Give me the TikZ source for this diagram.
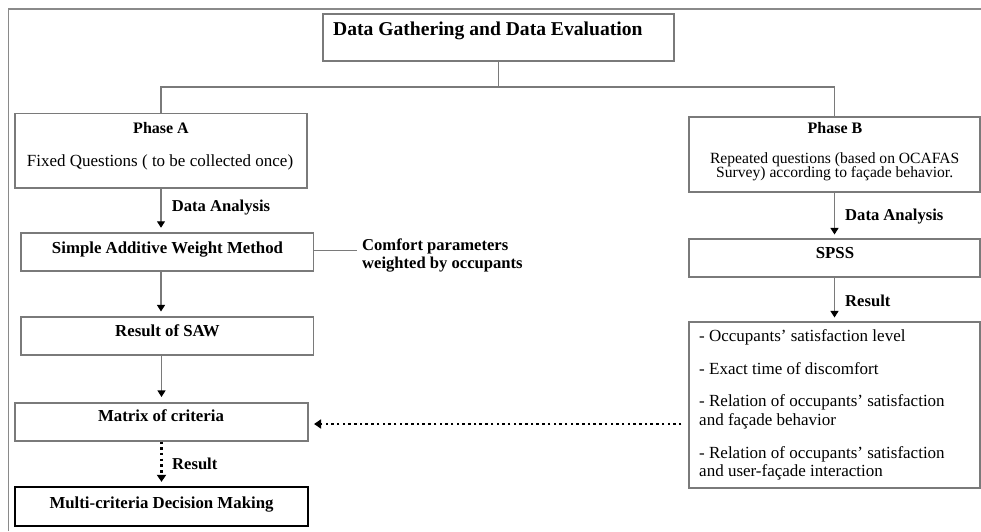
\documentclass[tikz,border=0pt]{standalone}
\usepackage{fontspec}
\setmainfont{Liberation Serif}
\usetikzlibrary{arrows.meta}
\definecolor{edge}{HTML}{7A7A7A}
\definecolor{rim}{HTML}{8A8A8A}

\begin{document}
\begin{tikzpicture}[x=1pt,y=-1pt,
  box/.style 2 args={draw=edge, line width=1.1pt, minimum width=#1pt,
    minimum height=#2pt, inner sep=0pt},
  mainbox/.style 2 args={draw=black, line width=2.3pt, minimum width=#1pt,
    minimum height=#2pt, inner sep=0pt},
  txt/.style={anchor=base, inner sep=0pt},
  ttl/.style={anchor=base west, inner sep=0pt,
    font=\fontsize{19.6}{22}\selectfont\bfseries},
  head/.style={txt, font=\fontsize{16}{19}\selectfont\bfseries},
  boxlabel/.style={txt, font=\fontsize{16.8}{20}\selectfont\bfseries},
  body/.style={txt, font=\fontsize{17}{20}\selectfont},
  bodysmall/.style={txt, font=\fontsize{15.6}{18}\selectfont},
  tag/.style={anchor=base west, inner sep=0pt,
    font=\fontsize{16.6}{19}\selectfont\bfseries},
  item/.style={anchor=base west, inner sep=0pt,
    font=\fontsize{17}{20}\selectfont},
  wire/.style={draw=edge, line width=1.1pt},
  conn/.style={wire, -{Triangle[length=6.5pt,width=8pt,black]}},
  dots/.style={draw=black, line width=2.4pt, dash pattern=on 2.5pt off 3.2pt,
    -{Triangle[length=7pt,width=9pt,black]}},
]
\useasboundingbox (0,0) rectangle (981,531);

% outer frame
\draw[rim, line width=1.8pt] (8.5,531) -- (8.5,9.3) -- (981,9.3);

% boxes
\node[box={351}{47}] (title) at (498.5,37.5) {};
\node[box={292}{74.5}] (phaseA) at (161,150.75) {};
\node[box={292.5}{38}] (saw) at (167.25,252) {};
\node[box={292.5}{38}] (sawres) at (167.25,336) {};
\node[box={293}{38}] (matrix) at (161.5,422) {};
\node[mainbox={293}{39}] (mcdm) at (161.5,506.5) {};
\node[box={291}{75}] (phaseB) at (834.5,154.5) {};
\node[box={291}{38}] (spss) at (834.5,258) {};
\node[box={291}{166}] (results) at (834.5,405) {};

% texts inside boxes
\node[ttl] (titletext) at (333,35) {Data Gathering and Data Evaluation};
\node[head] (phaseAhead) at (161,133.3) {Phase A};
\node[body] (phaseAbody) at (160,166.7) {Fixed Questions ( to be collected once)};
\node[boxlabel] (sawtext) at (167.5,253.3) {Simple Additive Weight Method};
\node[boxlabel] (sawrestext) at (167.5,336.7) {Result of SAW};
\node[boxlabel] (matrixtext) at (161,421.7) {Matrix of criteria};
\node[boxlabel] (mcdmtext) at (161.5,508.3) {Multi-criteria Decision Making};
\node[head] (phaseBhead) at (835,133.3) {Phase B};
\node[bodysmall] (phaseBline1) at (834.7,163.3) {Repeated questions (based on OCAFAS};
\node[bodysmall] (phaseBline2) at (834.7,177.5) {Survey) according to façade behavior.};
\node[boxlabel] (spsstext) at (835,258.3) {SPSS};
\node[item] (res1) at (699,341.7) {- Occupants’ satisfaction level};
\node[item] (res2) at (699,374) {- Exact time of discomfort};
\node[item] (res3) at (699,406.7) {- Relation of occupants’ satisfaction};
\node[item] (res4) at (699,425.7) {and façade behavior};
\node[item] (res5) at (699,458.3) {- Relation of occupants’ satisfaction};
\node[item] (res6) at (699,476.7) {and user-façade interaction};

% side labels
\node[tag] (labA) at (171.7,211.7) {Data Analysis};
\node[tag] (labR) at (172,469.3) {Result};
\node[tag] (labB) at (845,220) {Data Analysis};
\node[tag] (labBR) at (845,306) {Result};
\node[tag] (comfort1) at (362,250.7) {Comfort parameters};
\node[tag] (comfort2) at (362,268) {weighted by occupants};

% branching from the top box
\coordinate (branch) at (498.5,87);
\coordinate (brA) at (161,87);
\coordinate (brB) at (834.5,87);
\draw[wire] (title.south) -- (branch);
\draw[wire] (phaseA.north) -- (brA) -- (brB) -- (phaseB.north);

% left column
\draw[conn, shorten >=4.7pt] (phaseA.south) -- (saw.north -| phaseA.south);
\coordinate (comfortend) at (357,250.7);
\draw[wire] (saw.east |- comfortend) -- (comfortend);
\draw[conn, shorten >=5pt] (saw.south -| phaseA.south) -- (sawres.north -| phaseA.south);
\draw[conn, shorten >=5.5pt] (sawres.south -| matrix.south) -- (matrix.north);
\draw[dots, shorten >=4pt] (matrix.south) -- (mcdm.north);

% right column
\draw[conn, shorten >=4pt] (phaseB.south) -- (spss.north);
\draw[conn, shorten >=4pt] (spss.south) -- (results.north);

% link between the columns
\coordinate (mx) at ([yshift=-2pt]matrix.east);
\draw[dots, shorten <=7pt, shorten >=5.5pt] (mx -| results.west) -- (mx);
\end{tikzpicture}
\end{document}
